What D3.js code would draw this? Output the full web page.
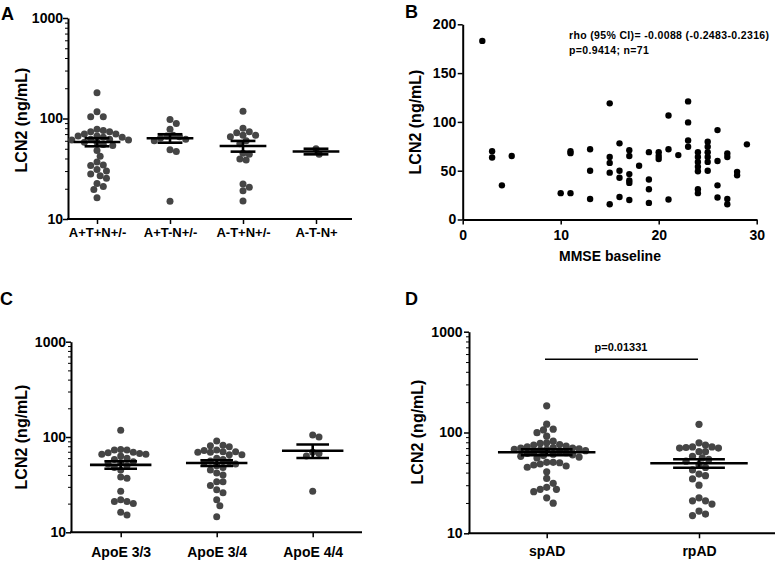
<!DOCTYPE html>
<html>
<head>
<meta charset="utf-8">
<script src="https://cdn.jsdelivr.net/npm/d3@7"></script>
<style>
  html, body { margin: 0; padding: 0; background: #fff; }
  svg { display: block; }
  text { font-family: "Liberation Sans", Arial, Helvetica, sans-serif; font-weight: bold; fill: #000; }
</style>
</head>
<body>
<svg id="chart" width="779" height="561"></svg>
<script>
// ---------------- DATA ----------------
const panelLabels = ["A", "B", "C", "D"];
const yTitle = "LCN2 (ng/mL)";

// Panel A: AT(N) groups
const catsA = ["A+T+N+/-", "A+T-N+/-", "A-T+N+/-", "A-T-N+"];
const valsA_ATpNpm = [180, 117, 104, 104, 78, 76, 74, 74, 70, 70, 67, 67, 65, 65, 62, 62, 61, 61, 58, 58, 55, 54, 48, 42, 37, 34.5, 34, 30, 31, 28, 27, 25.5, 21, 22.5, 19.7, 16.3];
const valsA_ATmNpm = [98, 89, 78, 68, 67, 66, 64, 62, 60, 49, 47, 15];
const valsA_AmTpNpm = [118, 80, 74, 72, 68, 68, 66, 60, 56, 45, 44, 39.5, 38.6, 22.3, 20.7, 19.1, 15.1];
const valsA_AmTmNp = [44, 50];

// Panel B: MMSE baseline vs LCN2
const mmseB = [2,3,3,4,5,10,11,11,11,13,13,13,15,15,15,15,15,16,16,16,16,17,17,17,17,17,17,18,19,19,19,19,20,20,20,21,21,21,22,23,23,23,23,24,24,24,24,24,24,24,25,25,25,25,25,25,26,26,26,26,27,27,27,27,28,28,29];
const lcn2B = [183,70,63.6,35,65,27,27,70,68,72,50,21,119,64,58,48,15.7,78,50,42.7,23,71,65,46.5,40,37.5,20,55,69,41,31,17,69,65,62,106.6,72,20.5,66,121,99.5,81,74.5,69,64,59,54,49.5,31,27,79.6,74.5,69,64,59,50,91.6,60,35,22.5,67.7,64,21,15.7,48.8,45.4,77];
const annotB1 = "rho (95% CI)= -0.0088 (-0.2483-0.2316)";
const annotB2 = "p=0.9414; n=71";
const xTitleB = "MMSE baseline";
const xTicksB = [0, 10, 20, 30];
const yTicksB = [0, 50, 100, 150, 200];

// Panel C: ApoE genotypes
const catsC = ["ApoE 3/3", "ApoE 3/4", "ApoE 4/4"];
const valsC_33 = [118, 74, 73, 69, 66, 66, 63, 67, 68.5, 73, 60, 58, 55, 54, 52, 50, 48, 45, 38, 37, 27, 22, 21, 20, 21, 15.2, 16.2];
const valsC_34 = [91, 82, 79, 81, 72, 73, 69, 65, 70, 69, 70, 65, 60, 58, 56, 55, 54, 52, 50, 48, 42, 45, 40, 34, 34, 31, 28, 26, 22, 19, 14.6];
const valsC_44 = [100, 105, 63, 67, 69, 27];

// Panel D: spAD vs rpAD
const catsD = ["spAD", "rpAD"];
const valsD_sp = [184, 121, 106, 108, 99.5, 92, 82, 78, 75, 76, 79, 73.5, 72, 71, 70, 70, 69, 68, 68, 67, 66, 65, 64, 63, 62, 61, 60, 59, 58, 57, 56, 50.6, 48.7, 46.5, 45.2, 47.6, 50.1, 50.6, 40.8, 35, 31.3, 28.6, 27.3, 25.9, 27.3, 22.5, 19.9];
const valsD_rp = [120.6, 79, 75, 72, 70, 64.5, 64.5, 70, 71, 72, 58, 56, 54, 52, 48, 45, 42.5, 38.7, 37.3, 34.6, 30, 22.5, 21, 19.5, 21, 16.6, 15, 15.5];
const pTextD = "p=0.01331";

const logMajorTicks = [10, 100, 1000];
const logMinorTicks = [20, 30, 40, 50, 60, 70, 80, 90, 200, 300, 400, 500, 600, 700, 800, 900];

// ---------------- DRAWING ----------------
const svg = d3.select("#chart");
const dotGrey = "#454545";

function beeswarm(values, yScale, cx, minDist, step) {
  const pts = values.map(v => ({ v, y: yScale(v) })).sort((a, b) => b.v - a.v);
  const placed = [];
  pts.forEach(p => {
    for (let k = 0; k < 400; k++) {
      const off = k === 0 ? 0 : (k % 2 ? 1 : -1) * Math.ceil(k / 2) * step;
      const x = cx + off;
      if (placed.every(q => (q.x - x) ** 2 + (q.y - p.y) ** 2 >= minDist * minDist)) {
        p.x = x; placed.push(p); break;
      }
    }
  });
  return placed;
}

function dotPanel(cfg) {
  const g = svg.append("g");
  const y = d3.scaleLog().domain([10, 1000]).range([cfg.yBottom, cfg.yTop]);
  const x = d3.scalePoint().domain(cfg.cats).range([cfg.xFirst, cfg.xLast]);
  const step = (cfg.xLast - cfg.xFirst) / (cfg.cats.length - 1);

  // y axis
  const ya = g.append("g").attr("transform", `translate(${cfg.axisX},0)`)
    .call(d3.axisLeft(y).tickValues(logMajorTicks).tickFormat(d3.format("d"))
      .tickSize(5).tickSizeOuter(0).tickPadding(cfg.yPad));
  ya.select(".domain").attr("stroke-width", 2);
  ya.selectAll(".tick line").attr("stroke-width", 1.5);
  ya.selectAll("text").attr("font-size", cfg.tickFont).attr("font-weight", "bold")
    .attr("font-family", "Liberation Sans, Arial, sans-serif");
  const ym = g.append("g").attr("transform", `translate(${cfg.axisX},0)`)
    .call(d3.axisLeft(y).tickValues(logMinorTicks).tickFormat("").tickSize(3).tickSizeOuter(0));
  ym.select(".domain").remove();
  ym.selectAll(".tick line").attr("stroke-width", 1);

  // x axis
  g.append("line").attr("x1", cfg.axisX - 1).attr("x2", cfg.xEnd)
    .attr("y1", cfg.yBottom).attr("y2", cfg.yBottom).attr("stroke", "#000").attr("stroke-width", 2);
  const xa = g.append("g").attr("transform", `translate(0,${cfg.yBottom})`)
    .call(d3.axisBottom(x).tickSize(5).tickSizeOuter(0).tickPadding(cfg.xPad));
  xa.select(".domain").remove();
  xa.selectAll(".tick line").attr("stroke-width", 1.5);
  xa.selectAll("text").attr("font-size", cfg.xFont).attr("font-weight", "bold")
    .attr("font-family", "Liberation Sans, Arial, sans-serif");

  // dots
  cfg.groups.forEach((vals, i) => {
    const cx = x(cfg.cats[i]);
    const pts = beeswarm(vals, y, cx, cfg.r * 1.75, cfg.r * 0.9);
    g.append("g").selectAll("circle").data(pts).join("circle")
      .attr("cx", d => d.x).attr("cy", d => d.y).attr("r", cfg.r).attr("fill", dotGrey);
    const m = d3.mean(vals);
    const sem = vals.length > 1 ? d3.deviation(vals) / Math.sqrt(vals.length) : 0;
    const mw = step * 0.32, sw = step * 0.17;
    const lg = g.append("g").attr("stroke", "#000").attr("stroke-width", 2.6);
    lg.append("line").attr("x1", cx - mw).attr("x2", cx + mw).attr("y1", y(m)).attr("y2", y(m));
    lg.append("line").attr("x1", cx - sw).attr("x2", cx + sw).attr("y1", y(m + sem)).attr("y2", y(m + sem));
    lg.append("line").attr("x1", cx - sw).attr("x2", cx + sw).attr("y1", y(m - sem)).attr("y2", y(m - sem));
    lg.append("line").attr("x1", cx).attr("x2", cx).attr("y1", y(m + sem)).attr("y2", y(m - sem));
  });

  // y title
  g.append("text").attr("transform", `translate(${cfg.titleX},${cfg.titleY}) rotate(-90)`)
    .attr("text-anchor", "middle").attr("font-size", 16).text(yTitle);
  return { g, x, y };
}

// Panel A
dotPanel({
  cats: catsA, groups: [valsA_ATpNpm, valsA_ATmNpm, valsA_AmTpNpm, valsA_AmTmNp],
  axisX: 68, xEnd: 352, yTop: 18, yBottom: 219, xFirst: 97, xLast: 316,
  yPad: 0, xPad: 4, tickFont: 14, xFont: 13, r: 3.5, titleX: 27, titleY: 120
});

// Panel C
dotPanel({
  cats: catsC, groups: [valsC_33, valsC_34, valsC_44],
  axisX: 71, xEnd: 362, yTop: 341.7, yBottom: 532.3, xFirst: 120.7, xLast: 312.7,
  yPad: 0, xPad: 9.5, tickFont: 14, xFont: 14, r: 3.5, titleX: 27, titleY: 437
});

// Panel D
const pd = dotPanel({
  cats: catsD, groups: [valsD_sp, valsD_rp],
  axisX: 469, xEnd: 775, yTop: 331.7, yBottom: 533.3, xFirst: 546.7, xLast: 699,
  yPad: 1.5, xPad: 8, tickFont: 14, xFont: 14, r: 3.6, titleX: 423, titleY: 432
});
pd.g.append("line").attr("x1", 545).attr("x2", 698).attr("y1", 359.3).attr("y2", 359.3)
  .attr("stroke", "#000").attr("stroke-width", 1.5);
pd.g.append("text").attr("x", 621).attr("y", 351).attr("text-anchor", "middle")
  .attr("font-size", 11).text(pTextD);

// Panel B
(function () {
  const g = svg.append("g");
  const x = d3.scaleLinear().domain([0, 30]).range([462.7, 756.7]);
  const y = d3.scaleLinear().domain([0, 200]).range([219.5, 24.3]);
  const ya = g.append("g").attr("transform", `translate(${x(0)},0)`)
    .call(d3.axisLeft(y).tickValues(yTicksB).tickSize(5).tickSizeOuter(0).tickPadding(1.5));
  ya.select(".domain").attr("stroke-width", 2);
  ya.selectAll(".tick line").attr("stroke-width", 1.5);
  ya.selectAll("text").attr("font-size", 14).attr("font-weight", "bold")
    .attr("font-family", "Liberation Sans, Arial, sans-serif");
  const xa = g.append("g").attr("transform", `translate(0,${y(0)})`)
    .call(d3.axisBottom(x).tickValues(xTicksB).tickSize(5).tickSizeOuter(0).tickPadding(6));
  xa.select(".domain").attr("stroke-width", 2);
  xa.selectAll(".tick line").attr("stroke-width", 1.5);
  xa.selectAll("text").attr("font-size", 14).attr("font-weight", "bold")
    .attr("font-family", "Liberation Sans, Arial, sans-serif");
  g.append("g").selectAll("circle").data(mmseB.map((m, i) => [m, lcn2B[i]])).join("circle")
    .attr("cx", d => x(d[0])).attr("cy", d => y(d[1])).attr("r", 3.2).attr("fill", "#000");
  g.append("text").attr("x", 569).attr("y", 38.5).attr("font-size", 10.5)
    .attr("letter-spacing", 0.35).text(annotB1);
  g.append("text").attr("x", 569).attr("y", 53.5).attr("font-size", 10.5)
    .attr("letter-spacing", 0.35).text(annotB2);
  g.append("text").attr("x", 610).attr("y", 261).attr("text-anchor", "middle")
    .attr("font-size", 14).text(xTitleB);
  g.append("text").attr("transform", `translate(421,122) rotate(-90)`)
    .attr("text-anchor", "middle").attr("font-size", 16).text(yTitle);
})();

// Panel letters
const letterPos = [[1, 20], [405, 18], [0, 305], [405, 305]];
svg.selectAll("text.plabel").data(panelLabels).join("text").attr("class", "plabel")
  .attr("x", (d, i) => letterPos[i][0]).attr("y", (d, i) => letterPos[i][1])
  .attr("font-size", 18).text(d => d);
</script>
</body>
</html>
